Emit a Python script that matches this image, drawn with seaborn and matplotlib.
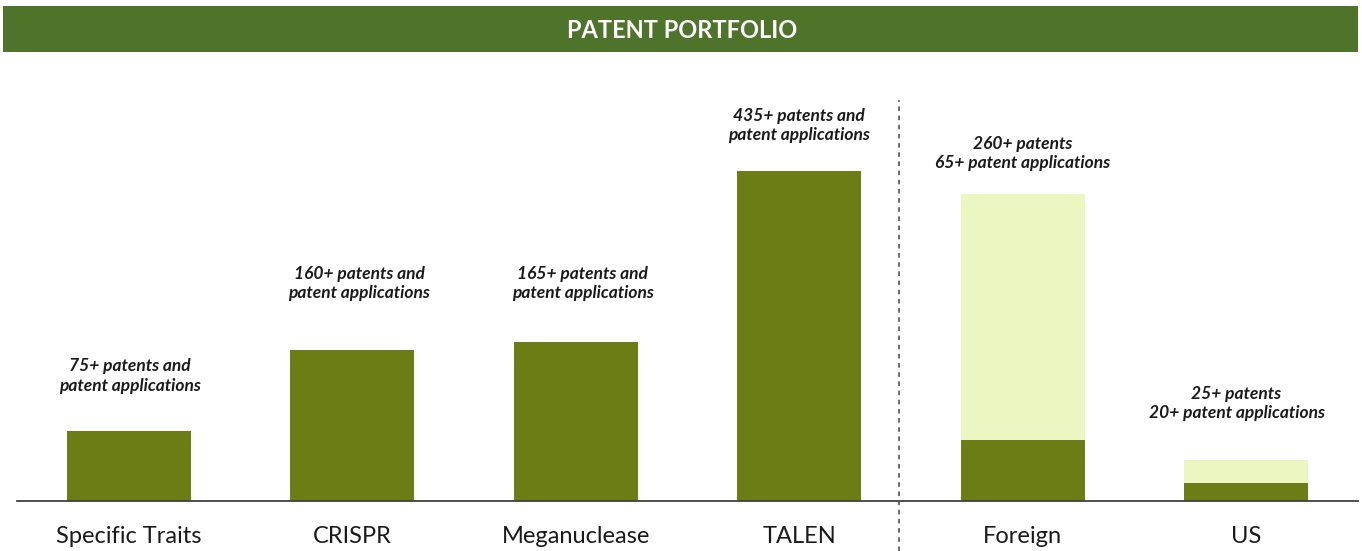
import matplotlib
matplotlib.use("Agg")
import matplotlib.pyplot as plt
import seaborn as sns
import pandas as pd
from matplotlib.patches import Rectangle

# ---- data (bar heights, arbitrary units; no axis scale shown)
categories = ["Specific Traits", "CRISPR", "Meganuclease", "TALEN", "Foreign", "US"]
dark_values = [70, 151, 159, 330, 61, 18]
light_values = [0, 0, 0, 0, 246, 23]
labels = [
    "75+ patents and\npatent applications",
    "160+ patents and\npatent applications",
    "165+ patents and\npatent applications",
    "435+ patents and\npatent applications",
    "260+ patents\n65+ patent applications",
    "25+ patents\n20+ patent applications",
]
title = "PATENT PORTFOLIO"

# styling (label offsets in points: horizontal, vertical)
label_dx_pts = [1, 5, 5, 0, 0, -7]
label_gap_pts = [27, 35, 29.5, 20, 16.5, 28]
dark_color = "#6b7d14"
light_color = "#ebf6c1"
banner_color = "#4e732a"

sns.set_theme(style="white")
plt.rcParams["font.family"] = ["Lato", "DejaVu Sans"]

fig = plt.figure(figsize=(13.62, 5.51), dpi=100)
ax = fig.add_axes([17 / 1362, 1 - 501 / 551, 1341 / 1362, 441 / 551])

totals = [d + l for d, l in zip(dark_values, light_values)]
df = pd.DataFrame({"cat": categories, "dark": dark_values, "total": totals})

sns.barplot(data=df, x="cat", y="total", order=categories, color=light_color,
            saturation=1, width=0.556, ax=ax, edgecolor="none")
sns.barplot(data=df, x="cat", y="dark", order=categories, color=dark_color,
            saturation=1, width=0.556, ax=ax, edgecolor="none")

ax.set_xlim(-0.5, 5.5)
ax.set_ylim(0, 441)
ax.set_xlabel("")
ax.set_ylabel("")
ax.set_yticks([])
for s in ["top", "left", "right"]:
    ax.spines[s].set_visible(False)
ax.spines["bottom"].set_color("#404040")
ax.spines["bottom"].set_linewidth(1.3)
ax.tick_params(axis="x", length=0, pad=18, labelsize=17, labelcolor="#1a1a1a")

for i, (lab, tot, dx, gap) in enumerate(zip(labels, totals, label_dx_pts, label_gap_pts)):
    ax.annotate(lab, xy=(i, tot), xytext=(dx, gap), textcoords="offset points",
                ha="center", va="bottom", fontsize=12.5, fontweight="bold",
                fontstyle="italic", color="#1a1a1a", linespacing=1.25)

# dashed separator between technologies and geography
ax.plot([3.445, 3.445], [-50, 401], linestyle=(0, (3, 3)), color="#444444",
        linewidth=1.1, clip_on=False)

# title banner
fig.patches.append(Rectangle((3 / 1362, 1 - 52 / 551), 1355 / 1362, 46 / 551,
                             transform=fig.transFigure, facecolor=banner_color,
                             edgecolor="none", zorder=0))
fig.text(682 / 1362, 1 - 30 / 551, title, ha="center", va="center",
         color="white", fontsize=17, fontweight="bold")

fig.savefig("out.png", dpi=100, facecolor="white")
